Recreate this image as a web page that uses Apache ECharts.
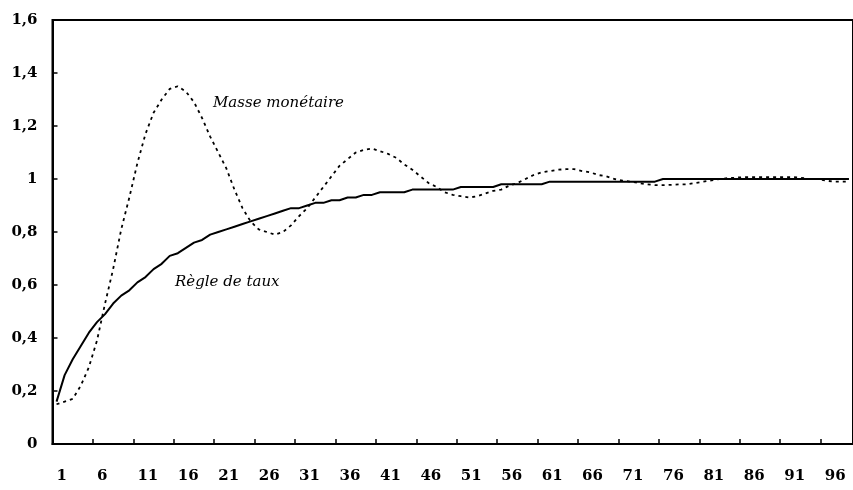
<!DOCTYPE html>
<html>
<head>
<meta charset="utf-8">
<script src="https://cdn.jsdelivr.net/npm/echarts@6/dist/echarts.min.js"></script>
<style>
html,body{margin:0;padding:0;background:#fff;}
#chart{width:853px;height:490px;}
</style>
</head>
<body>
<div id="chart"></div>
<script>
// Categories (periods 1..99)
var categories = [];
for (var k = 1; k <= 99; k++) categories.push(String(k));

// Y tick labels
var yTickLabels = ['0', '0,2', '0,4', '0,6', '0,8', '1', '1,2', '1,4', '1,6'];

// "Règle de taux" (solid)
var regleDeTaux = [
  0.16, 0.26, 0.32, 0.37, 0.42, 0.46, 0.49, 0.53, 0.56, 0.58,
  0.61, 0.63, 0.66, 0.68, 0.71, 0.72, 0.74, 0.76, 0.77, 0.79,
  0.80, 0.81, 0.82, 0.83, 0.84, 0.85, 0.86, 0.87, 0.88, 0.89,
  0.89, 0.90, 0.91, 0.91, 0.92, 0.92, 0.93, 0.93, 0.94, 0.94,
  0.95, 0.95, 0.95, 0.95, 0.96, 0.96, 0.96, 0.96, 0.96, 0.96,
  0.97, 0.97, 0.97, 0.97, 0.97, 0.98, 0.98, 0.98, 0.98, 0.98,
  0.98, 0.99, 0.99, 0.99, 0.99, 0.99, 0.99, 0.99, 0.99, 0.99,
  0.99, 0.99, 0.99, 0.99, 0.99, 1.00, 1.00, 1.00, 1.00, 1.00,
  1.00, 1.00, 1.00, 1.00, 1.00, 1.00, 1.00, 1.00, 1.00, 1.00,
  1.00, 1.00, 1.00, 1.00, 1.00, 1.00, 1.00, 1.00, 1.00
];

// "Masse monétaire" (dashed)
var masseMonetaire = [
  0.15, 0.16, 0.17, 0.22, 0.29, 0.39, 0.53, 0.66, 0.81, 0.93,
  1.06, 1.17, 1.25, 1.30, 1.34, 1.35, 1.33, 1.29, 1.23, 1.16,
  1.10, 1.04, 0.96, 0.89, 0.84, 0.81, 0.80, 0.79, 0.80, 0.825,
  0.86, 0.89, 0.93, 0.97, 1.01, 1.05, 1.075, 1.10, 1.11, 1.115,
  1.105, 1.095, 1.08, 1.055, 1.035, 1.01, 0.985, 0.97, 0.95, 0.94,
  0.935, 0.93, 0.935, 0.945, 0.955, 0.96, 0.975, 0.985, 1.00, 1.015,
  1.025, 1.03, 1.035, 1.037, 1.037, 1.03, 1.025, 1.015, 1.01, 1.00,
  0.994, 0.99, 0.985, 0.98, 0.977, 0.977, 0.978, 0.98, 0.98, 0.985,
  0.99, 0.995, 1.00, 1.003, 1.005, 1.007, 1.007, 1.007, 1.007, 1.007,
  1.007, 1.007, 1.005, 1.00, 1.00, 0.995, 0.99, 0.99, 0.99
];

var seriesNames = ['Règle de taux', 'Masse monétaire'];

var chart = echarts.init(document.getElementById('chart'), null, {renderer: 'canvas'});
var labelFont = {fontFamily: 'DejaVu Serif', fontWeight: 'bold', fontSize: 15, color: '#000'};

chart.setOption({
  backgroundColor: '#fff',
  animation: false,
  grid: {
    left: 52.5, top: 20, bottom: 46, right: -3.5,
    show: true, borderColor: '#000', borderWidth: 2, backgroundColor: 'transparent'
  },
  xAxis: {
    type: 'category',
    data: categories,
    boundaryGap: true,
    axisLine: {lineStyle: {color: '#000', width: 2}},
    axisTick: {show: true, inside: true, length: 5, interval: 4, lineStyle: {color: '#000', width: 1.5}},
    axisLabel: Object.assign({interval: 4, margin: 25, align: 'left'}, labelFont),
    splitLine: {show: false}
  },
  yAxis: {
    type: 'value',
    min: 0, max: 1.6, interval: 0.2,
    axisLine: {show: true, lineStyle: {color: '#000', width: 2}},
    axisTick: {show: true, inside: true, length: 5, lineStyle: {color: '#000', width: 1.5}},
    axisLabel: Object.assign({
      margin: 15,
      padding: [6, 0, 0, 0],
      formatter: function (v) { return yTickLabels[Math.round(v / 0.2)]; }
    }, labelFont),
    splitLine: {show: false}
  },
  series: [
    {
      name: seriesNames[0],
      type: 'line',
      data: regleDeTaux,
      symbol: 'none',
      lineStyle: {color: '#000', width: 2, type: 'solid'},
      z: 3
    },
    {
      name: seriesNames[1],
      type: 'line',
      data: masseMonetaire,
      symbol: 'none',
      lineStyle: {color: '#000', width: 1.8, type: [3, 4]},
      z: 2
    }
  ],
  graphic: [
    {type: 'text', left: 213, top: 96, style: {text: seriesNames[1], font: 'italic 15px "DejaVu Serif"', fill: '#000'}},
    {type: 'text', left: 175, top: 275, style: {text: seriesNames[0], font: 'italic 15px "DejaVu Serif"', fill: '#000'}}
  ]
});
</script>
</body>
</html>
